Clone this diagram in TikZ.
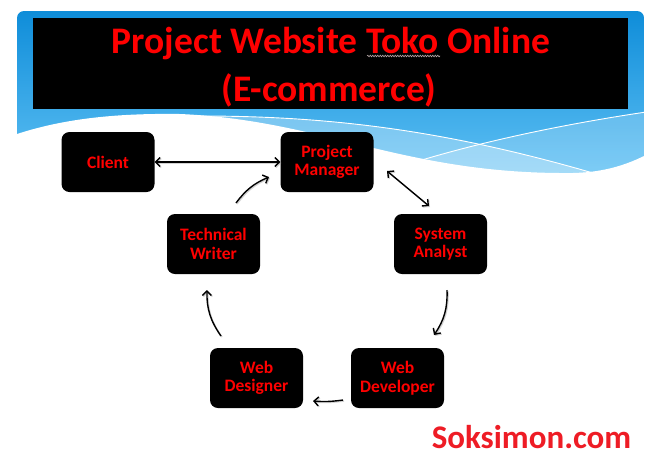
\documentclass[tikz,border=0pt]{standalone}
\usepackage{fontspec}
\setmainfont{Carlito}
\usetikzlibrary{arrows.meta,decorations.pathmorphing}
\definecolor{paneltop}{HTML}{0F8DD9}
\definecolor{panelbot}{HTML}{5EC0F4}
\definecolor{titlered}{HTML}{FF0000}
\definecolor{brandred}{HTML}{EE1C25}
\definecolor{spellgray}{HTML}{B8A8A8}
\tikzset{
  rolebox/.style={fill=black, rounded corners=8pt, minimum width=93pt, minimum height=60pt,
    inner sep=2pt, align=center, text=titlered,
    font=\fontsize{17.5}{18.5}\selectfont\bfseries},
  arr/.style={line width=1.4pt, black, -{Straight Barb[length=4.5pt,width=9pt]},
    preaction={draw=black!35, line width=1.4pt, opacity=.5, transform canvas={shift={(1pt,-1pt)}}}},
  darr/.style={arr, {Straight Barb[length=4.5pt,width=9pt]}-{Straight Barb[length=4.5pt,width=9pt]}},
  titletext/.style={anchor=base, text=titlered, font=\fontsize{37.5}{40}\selectfont\bfseries},
}
\begin{document}
\begin{tikzpicture}[x=1pt,y=-1pt]
\useasboundingbox (0,0) rectangle (660,467);
\fill[white] (0,0) rectangle (660,467);
% header panel
\begin{scope}
  \clip[rounded corners=7pt] (17,11) rectangle (644,230);
  \shade[top color=paneltop, bottom color=panelbot] (17,11) rectangle (644,175);
  \fill[panelbot] (17,175) rectangle (644,230);
  \fill[white, opacity=.3] (200,116) .. controls (330,116) and (450,130) .. (610,178) -- (610,230) -- (200,230) -- cycle;
  \fill[white, opacity=.2] (390,170) .. controls (450,150) and (540,127) .. (660,110) -- (660,230) -- (390,230) -- cycle;
  \draw[white, line width=0.9pt] (200,116) .. controls (330,116) and (450,130) .. (610,178);
  \draw[white, line width=0.9pt] (390,170) .. controls (450,150) and (540,127) .. (660,110);
\end{scope}
\fill[white] (0,134) -- (17,134) .. controls (60,120) and (110,113) .. (180,114)
   .. controls (320,120) and (400,172) .. (560,173)
   .. controls (600,174) and (625,166) .. (650,153) -- (660,153) -- (660,245) -- (0,245) -- cycle;
% title block
\fill[black] (33,18) rectangle (628,109);
\node[titletext] (title1) at (331,53) {Project Website Toko Online};
\node[titletext] (title2) at (329,101) {(E-commerce)};
\draw[spellgray, line width=0.6pt, decorate, decoration={snake, amplitude=0.8pt, segment length=2.5pt}] (367,56) -- (440,56);
% role boxes
\node[rolebox] (client) at (108,162) {Client};
\node[rolebox] (pm) at (327,162) {Project\\Manager};
\node[rolebox] (tw) at (213.5,244) {Technical\\Writer};
\node[rolebox] (sa) at (440.5,244) {System\\Analyst};
\node[rolebox] (wdes) at (256.5,378) {Web\\Designer};
\node[rolebox] (wdev) at (397.5,378) {Web\\Developer};
% connector end points
\coordinate (pmsaA) at (387,171);
\coordinate (pmsaB) at (429,206);
\coordinate (sawdA) at (447,290);
\coordinate (sawdB) at (434,335);
\coordinate (dvdsA) at (343,400);
\coordinate (dvdsB) at (313,401);
\coordinate (dstwA) at (221,336);
\coordinate (dstwB) at (207,290);
\coordinate (twpmA) at (236,203);
\coordinate (twpmB) at (269,177);
% connectors
\draw[darr] (client.east) -- (pm.west);
\draw[darr] (pmsaA) -- (pmsaB);
\draw[arr] (sawdA) to[bend left=18] (sawdB);
\draw[arr] (dvdsA) to[bend left=6] (dvdsB);
\draw[arr] (dstwA) to[bend left=18] (dstwB);
\draw[arr] (twpmA) to[bend left=15] (twpmB);
% brand
\node[anchor=base, text=brandred, font=\fontsize{33}{36}\selectfont\bfseries] (brand) at (531.5,448) {Soksimon.com};
\end{tikzpicture}
\end{document}
